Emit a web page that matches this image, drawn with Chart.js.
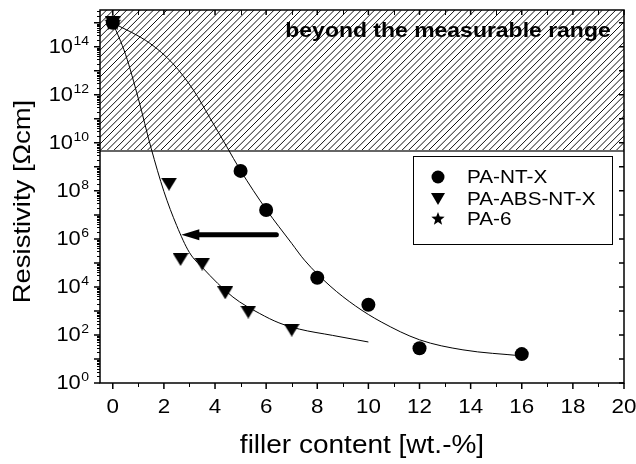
<!DOCTYPE html>
<html>
<head>
<meta charset="utf-8">
<title>Resistivity vs filler content</title>
<script src="https://cdn.jsdelivr.net/npm/chart.js@4.4.0/dist/chart.umd.min.js"></script>
<style>
    html, body { margin: 0; padding: 0; background: #fff; }
    #chart { display: block; }
</style>
</head>
<body>
<canvas id="chart" width="636" height="464"></canvas>
<script>
        // Measured samples (0 wt.-% is plain PA-6)
        const ntX = [0, 5, 6, 8, 10, 12, 16];
        const ntY = [1e15, 6.8e8, 1.6e7, 2.4e4, 1.8e3, 28, 16];
        const absX = [0, 2.2, 2.65, 3.5, 4.4, 5.3, 7.0];
        const absY = [1e15, 1.9e8, 1.4e5, 9e4, 5.7e3, 9e2, 1.6e2];
        const pa6X = [0];
        const pa6Y = [1e15];

        // Fit curves
        const ntFitX = [0, 1.45, 2.35, 3.15, 3.8, 4.45, 5, 6, 7, 7.5, 8.5, 9.5, 10.5, 12, 13.7, 16];
        const ntFitY = [1e15, 1.4e14, 2e13, 1.6e12, 1.1e11, 7.2e9, 7e8, 1.7e7, 6.5e5, 1.3e5, 1.1e4, 1.6e3, 350, 63, 24, 13.5];
        const absFitX = [0, 0.5, 1.0, 1.5, 2.0, 2.5, 3.0, 3.5, 4.7, 5.75, 6.5, 7.3, 8.6, 10];
        const absFitY = [1e15, 4.8e13, 6.9e11, 6e9, 9.5e7, 3.6e6, 2.7e5, 6.5e4, 3.8e3, 780, 320, 175, 96, 51];

        // Upper measurement limit, arrow and axis labels
        const measurableLimit = 4.6e9;
        const arrowX = [6.4, 2.68];
        const arrowY = [1.5e6, 1.5e6];
        const xTickLabels = [0, 2, 4, 6, 8, 10, 12, 14, 16, 18, 20];
        const yTickExponents = [0, 2, 4, 6, 8, 10, 12, 14];

        const FONT = '"Liberation Sans", Arial, sans-serif';
        const SX = 1.12;

        function pts(xs, ys) {
            return xs.map((v, i) => ({ x: v, y: ys[i] }));
        }

        // Filled five-point star used as point style
        function makeStar(size) {
            const c = document.createElement('canvas');
            c.width = size;
            c.height = size;
            const g = c.getContext('2d');
            const R = size / 2, r = R * 0.42;
            g.fillStyle = '#000';
            g.beginPath();
            for (let i = 0; i < 10; i++) {
                const rad = i % 2 === 0 ? R : r;
                const a = -Math.PI / 2 + i * Math.PI / 5;
                g.lineTo(R + rad * Math.cos(a), R + rad * Math.sin(a));
            }
            g.closePath();
            g.fill();
            return c;
        }

        // Downward triangle, a little wider than equilateral
        function makeTriangle(w, h) {
            const c = document.createElement('canvas');
            c.width = w;
            c.height = h;
            const g = c.getContext('2d');
            g.fillStyle = '#000';
            g.beginPath();
            g.moveTo(0, 0);
            g.lineTo(w, 0);
            g.lineTo(w / 2, h);
            g.closePath();
            g.fill();
            return c;
        }

        const starBig = makeStar(18);
        const starSmall = makeStar(14);
        const triBig = makeTriangle(16, 13);
        const triSmall = makeTriangle(14, 12);

        function stretchText(ctx, str, x, y, font, align, baseline) {
            ctx.save();
            ctx.font = font;
            ctx.textAlign = align;
            ctx.textBaseline = baseline;
            ctx.translate(x, y);
            ctx.scale(SX, 1);
            ctx.fillText(str, 0, 0);
            ctx.restore();
        }

        // Hatched band, arrow, frame, ticks, labels and legend
        const decor = {
            id: 'decor',
            beforeDatasetsDraw(chart) {
                const { ctx, chartArea: a, scales: { y } } = chart;
                const yLim = y.getPixelForValue(measurableLimit);
                ctx.save();
                ctx.beginPath();
                ctx.rect(a.left, a.top, a.right - a.left, yLim - a.top);
                ctx.clip();
                ctx.strokeStyle = '#111';
                ctx.lineWidth = 1;
                ctx.beginPath();
                const h = yLim - a.top;
                for (let sx = a.left - h; sx < a.right + 10; sx += 6.7) {
                    ctx.moveTo(sx, yLim);
                    ctx.lineTo(sx + h, a.top);
                }
                ctx.stroke();
                ctx.restore();

                ctx.save();
                ctx.strokeStyle = '#666';
                ctx.lineWidth = 2;
                ctx.beginPath();
                ctx.moveTo(a.left, yLim);
                ctx.lineTo(a.right, yLim);
                ctx.stroke();
                ctx.restore();

                ctx.fillStyle = '#000';
                stretchText(ctx, 'beyond the measurable range', 448, 31,
                    'bold 20.5px ' + FONT, 'center', 'middle');
            },
            afterDatasetsDraw(chart) {
                const { ctx, scales: { x, y } } = chart;
                const x0 = x.getPixelForValue(arrowX[0]);
                const x1 = x.getPixelForValue(arrowX[1]);
                const y0 = y.getPixelForValue(arrowY[0]);
                const y1 = y.getPixelForValue(arrowY[1]);
                ctx.save();
                ctx.strokeStyle = '#000';
                ctx.fillStyle = '#000';
                ctx.lineWidth = 5;
                ctx.lineCap = 'round';
                ctx.beginPath();
                ctx.moveTo(x0, y0);
                ctx.lineTo(x1 + 16, y1);
                ctx.stroke();
                ctx.beginPath();
                ctx.moveTo(x1, y1);
                ctx.lineTo(x1 + 18, y1 - 5.5);
                ctx.lineTo(x1 + 18, y1 + 5.5);
                ctx.closePath();
                ctx.fill();
                ctx.restore();
            },
            afterDraw(chart) {
                const { ctx, chartArea: a, scales: { x, y } } = chart;
                ctx.save();
                ctx.strokeStyle = '#000';

                // minor ticks
                ctx.lineWidth = 1;
                ctx.beginPath();
                for (let v = 1; v <= 19; v += 2) {
                    const px = Math.round(x.getPixelForValue(v)) + 0.5;
                    ctx.moveTo(px, a.bottom); ctx.lineTo(px, a.bottom + 4);
                    ctx.moveTo(px, a.top); ctx.lineTo(px, a.top + 5);
                }
                for (let e = 0; e <= 15; e++) {
                    for (let m = 2; m <= 9; m++) {
                        const val = m * Math.pow(10, e);
                        if (val > y.max) break;
                        const py = Math.round(y.getPixelForValue(val)) + 0.5;
                        ctx.moveTo(a.left - 3, py); ctx.lineTo(a.left, py);
                    }
                }
                ctx.stroke();

                // major ticks
                ctx.lineWidth = 1.5;
                ctx.beginPath();
                for (let v = 0; v <= 20; v += 2) {
                    const px = x.getPixelForValue(v);
                    ctx.moveTo(px, a.bottom); ctx.lineTo(px, a.bottom + 6);
                    ctx.moveTo(px, a.top); ctx.lineTo(px, a.top + 5);
                }
                for (let e = 0; e <= 15; e++) {
                    const py = y.getPixelForValue(Math.pow(10, e));
                    ctx.moveTo(a.left - 6, py); ctx.lineTo(a.left, py);
                    ctx.moveTo(a.right, py); ctx.lineTo(a.right - 5, py);
                }
                ctx.stroke();

                // frame
                ctx.lineWidth = 1.5;
                ctx.strokeRect(a.left, a.top, a.right - a.left, a.bottom - a.top);
                ctx.restore();

                // tick labels
                ctx.fillStyle = '#000';
                xTickLabels.forEach(v => {
                    stretchText(ctx, String(v), x.getPixelForValue(v), a.bottom + 24,
                        '20px ' + FONT, 'center', 'middle');
                });
                yTickExponents.forEach(e => {
                    const py = y.getPixelForValue(Math.pow(10, e));
                    ctx.font = '12.5px ' + FONT;
                    const we = ctx.measureText(String(e)).width * SX;
                    stretchText(ctx, String(e), 89, py - 2, '12.5px ' + FONT, 'right', 'alphabetic');
                    stretchText(ctx, '10', 89 - we - 0.5, py + 1, '19.5px ' + FONT, 'right', 'middle');
                });

                // axis titles
                stretchText(ctx, 'filler content [wt.-%]', (a.left + a.right) / 2, 453,
                    '25px ' + FONT, 'center', 'alphabetic');
                ctx.save();
                ctx.translate(29.5, 201.5);
                ctx.rotate(-Math.PI / 2);
                ctx.font = '24.5px ' + FONT;
                ctx.textAlign = 'center';
                ctx.textBaseline = 'alphabetic';
                ctx.scale(SX, 1);
                ctx.fillText('Resistivity [\u03A9cm]', 0, 0);
                ctx.restore();

                // legend
                ctx.save();
                ctx.fillStyle = '#fff';
                ctx.fillRect(413.5, 156.5, 199, 88);
                ctx.strokeStyle = '#000';
                ctx.lineWidth = 1;
                ctx.strokeRect(413.5, 156.5, 199, 88);
                const entries = [
                    { text: 'PA-NT-X', style: 'circle', radius: 6.5, yy: 177 },
                    { text: 'PA-ABS-NT-X', style: triSmall, radius: 7, yy: 199 },
                    { text: 'PA-6', style: starSmall, radius: 7, yy: 219 }
                ];
                entries.forEach(en => {
                    ctx.fillStyle = '#000';
                    Chart.helpers.drawPoint(ctx, {
                        pointStyle: en.style, radius: en.radius, rotation: 0, borderWidth: 0
                    }, 438, en.yy);
                    stretchText(ctx, en.text, 467, en.yy + 1, '18.5px ' + FONT, 'left', 'middle');
                });
                ctx.restore();
            }
        };

        new Chart(document.getElementById('chart'), {
            type: 'scatter',
            data: {
                datasets: [
                    {
                        label: 'PA-NT-X fit',
                        data: pts(ntFitX, ntFitY),
                        showLine: true,
                        borderColor: '#000',
                        borderWidth: 1,
                        pointRadius: 0,
                        pointHoverRadius: 0,
                        cubicInterpolationMode: 'monotone',
                        order: 3
                    },
                    {
                        label: 'PA-ABS-NT-X fit',
                        data: pts(absFitX, absFitY),
                        showLine: true,
                        borderColor: '#000',
                        borderWidth: 1,
                        pointRadius: 0,
                        pointHoverRadius: 0,
                        cubicInterpolationMode: 'monotone',
                        order: 3
                    },
                    {
                        label: 'PA-6',
                        data: pts(pa6X, pa6Y),
                        pointStyle: starBig,
                        pointRadius: 9,
                        order: 0
                    },
                    {
                        label: 'PA-NT-X',
                        data: pts(ntX, ntY),
                        pointStyle: 'circle',
                        pointRadius: 7,
                        backgroundColor: '#000',
                        borderWidth: 0,
                        order: 1
                    },
                    {
                        label: 'PA-ABS-NT-X',
                        data: pts(absX, absY),
                        pointStyle: triBig,
                        pointRadius: 8,
                        order: 1
                    }
                ]
            },
            options: {
                responsive: false,
                animation: false,
                layout: { padding: { left: 0, top: 8, right: 12, bottom: 0 } },
                plugins: {
                    legend: { display: false },
                    tooltip: { enabled: false }
                },
                scales: {
                    x: {
                        type: 'linear',
                        min: -0.5,
                        max: 20,
                        grid: { display: false },
                        border: { display: false },
                        ticks: { display: false },
                        afterFit: s => { s.height = 81; }
                    },
                    y: {
                        type: 'logarithmic',
                        min: 1,
                        max: 3.4e15,
                        grid: { display: false },
                        border: { display: false },
                        ticks: { display: false },
                        afterFit: s => { s.width = 100; }
                    }
                }
            },
            plugins: [decor]
        });
</script>
</body>
</html>
